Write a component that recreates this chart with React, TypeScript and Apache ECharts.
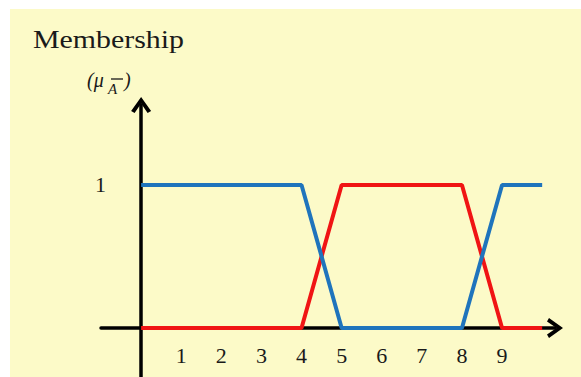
import React, { useEffect, useRef } from "react";
import * as echarts from "echarts";

const xValues = [0, 4, 5, 8, 9, 10];
const blueValues = [1, 1, 0, 0, 1, 1];
const redValues = [0, 0, 1, 1, 0, 0];
const xTickLabels = [1, 2, 3, 4, 5, 6, 7, 8, 9];
const yTickLabels = [1];

const SERIF = "'Liberation Serif', 'Times New Roman', serif";
const CHEVRON = "path://M0,14 L10,0 L20,14 L16.5,16 L10,6.5 L3.5,16 Z";

export default function App() {
  const ref = useRef<HTMLDivElement>(null);
  useEffect(() => {
    if (!ref.current) return;
    const chart = echarts.init(ref.current, null, { renderer: "svg" });
    const axisLine = {
      show: true,
      onZero: true,
      lineStyle: { color: "#000", width: 3.5 },
      symbol: ["none", CHEVRON],
      symbolSize: [20, 16],
    };
    chart.setOption({
      animation: false,
      backgroundColor: "#ffffff",
      graphic: [
        {
          type: "rect",
          z: -10,
          shape: { x: 10, y: 9, width: 571, height: 368 },
          style: { fill: "#FCFAC8" },
          silent: true,
        },
        {
          type: "text",
          x: 33,
          y: 39,
          scaleX: 1.15,
          style: {
            text: "Membership",
            font: `26px ${SERIF}`,
            fill: "#1a1a1a",
            verticalAlign: "middle",
          },
        },
        {
          type: "text",
          x: 87,
          y: 80,
          style: {
            text: "(μ",
            font: `italic 20px ${SERIF}`,
            fill: "#1a1a1a",
            verticalAlign: "middle",
          },
        },
        {
          type: "text",
          x: 108,
          y: 89,
          style: {
            text: "A",
            font: `italic 15px ${SERIF}`,
            fill: "#1a1a1a",
            verticalAlign: "middle",
          },
        },
        {
          type: "line",
          shape: { x1: 111, y1: 79, x2: 123, y2: 79 },
          style: { stroke: "#1a1a1a", lineWidth: 1.3 },
        },
        {
          type: "text",
          x: 124,
          y: 80,
          style: {
            text: ")",
            font: `italic 20px ${SERIF}`,
            fill: "#1a1a1a",
            verticalAlign: "middle",
          },
        },
      ],
      grid: {
        left: 101,
        right: 26,
        top: 105,
        bottom: 0,
        containLabel: false,
        outerBoundsMode: "none",
      },
      xAxis: {
        type: "value",
        min: -1,
        max: 10.32,
        interval: 1,
        axisLine,
        axisTick: { show: false },
        splitLine: { show: false },
        axisLabel: {
          customValues: xTickLabels,
          margin: -33,
          fontFamily: SERIF,
          fontSize: 22,
          color: "#1a1a1a",
        },
      },
      yAxis: {
        type: "value",
        min: -0.343,
        max: 1.559,
        axisLine,
        axisTick: { show: false },
        splitLine: { show: false },
        axisLabel: {
          customValues: yTickLabels,
          margin: -5,
          fontFamily: SERIF,
          fontSize: 22,
          color: "#1a1a1a",
        },
      },
      series: [
        {
          type: "line",
          name: "red",
          data: xValues.map((x, i) => [x, redValues[i]]),
          symbol: "none",
          lineStyle: { color: "#F01414", width: 4 },
          z: 3,
        },
        {
          type: "line",
          name: "blue",
          data: xValues.map((x, i) => [x, blueValues[i]]),
          symbol: "none",
          lineStyle: { color: "#1F74BC", width: 4 },
          z: 4,
        },
      ],
    });
    return () => chart.dispose();
  }, []);
  return (
    <div
      ref={ref}
      style={{ position: "fixed", left: 0, top: 0, width: 581, height: 377 }}
    />
  );
}
